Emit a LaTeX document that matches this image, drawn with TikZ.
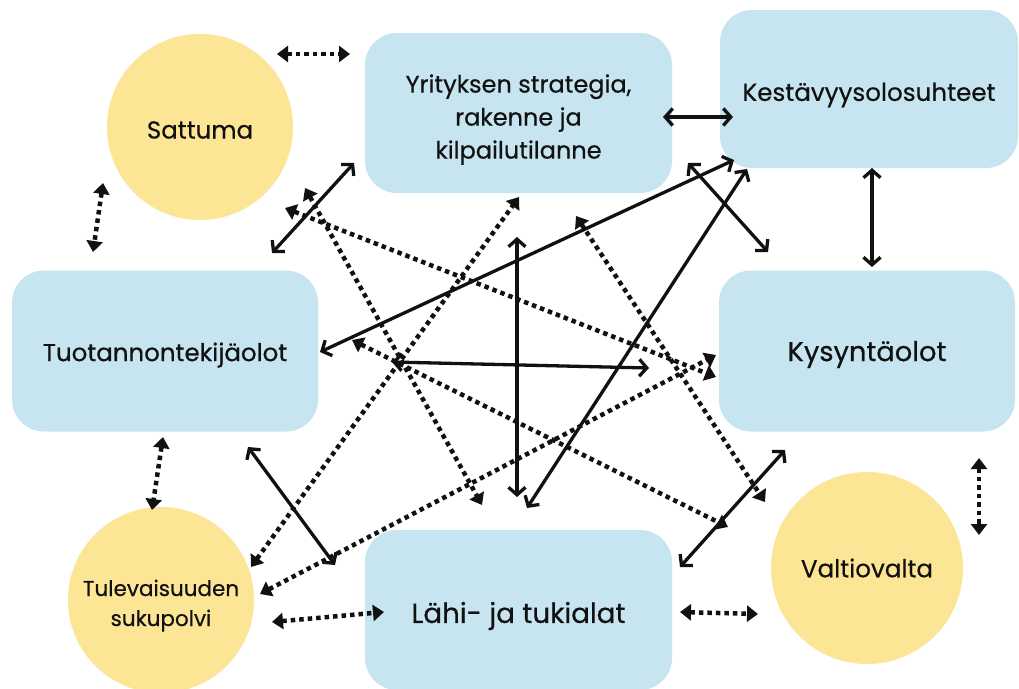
\documentclass[tikz,border=0pt]{standalone}
\usepackage{fontspec}
\setmainfont{Poppins}[FakeBold=0.45]
\usetikzlibrary{arrows.meta}
\definecolor{boxblue}{RGB}{198,229,241}
\definecolor{sunyellow}{RGB}{252,229,148}
\definecolor{ink}{RGB}{17,17,17}
\newcommand\dropby[2]{\raisebox{-#1}[\height][\depth]{#2}}
\newcommand\stackc[1]{\begin{tabular}{@{}c@{}}#1\end{tabular}}
\tikzset{
  box/.style={fill=boxblue, rounded corners=32pt, inner sep=0pt, align=center, text=ink},
  circ/.style={circle, fill=sunyellow, inner sep=0pt, align=center, text=ink},
  solidarrow/.style={draw=ink, line width=3.3pt,
    {Straight Barb[length=7.5pt,width=17pt]}-{Straight Barb[length=7.5pt,width=17pt]}},
  dotarrow/.style={draw=ink, line width=4.5pt, dash pattern=on 4.5pt off 4pt,
    {Triangle[length=11pt,width=16pt]}-{Triangle[length=11pt,width=16pt]}},
}
\begin{document}
\begin{tikzpicture}[x=1pt,y=-1pt]
\useasboundingbox (0,0) rectangle (1019,688);
\fill[white] (0,0) rectangle (1019,688);

% nodes
\node[circ, minimum size=186pt, font=\fontsize{24.5}{28}\selectfont] (satt) at (200,127) {\dropby{3pt}{Sattuma}};
\node[box, minimum width=307pt, minimum height=160pt, font=\fontsize{24}{33}\selectfont] (yrit) at (518.5,113) {\dropby{6pt}{\stackc{Yrityksen strategia,\\rakenne ja\\kilpailutilanne}}};
\node[box, minimum width=298pt, minimum height=158pt, font=\fontsize{24.6}{28}\selectfont] (kest) at (869,89) {\dropby{6pt}{Kestävyysolosuhteet}};
\node[box, minimum width=306pt, minimum height=161pt, font=\fontsize{24.5}{28}\selectfont] (tuot) at (165,351) {\dropby{4pt}{Tuotannontekijäolot}};
\node[box, minimum width=296pt, minimum height=161pt, font=\fontsize{27.3}{30}\selectfont] (kysy) at (867,351) {\dropby{3.5pt}{Kysyntäolot}};
\node[box, minimum width=307pt, minimum height=160pt, font=\fontsize{27.7}{32}\selectfont] (lahi) at (518.5,610) {\dropby{6pt}{Lähi- ja tukialat}};
\node[circ, minimum size=186pt, font=\fontsize{21.5}{30}\selectfont] (tule) at (161,600) {\dropby{5pt}{\stackc{Tulevaisuuden\\sukupolvi}}};
\node[circ, minimum size=192pt, font=\fontsize{24.6}{28}\selectfont] (valt) at (867,568) {Valtiovalta};

% connector end points
\coordinate (s1a) at (663,117); \coordinate (s1b) at (733,117);
\coordinate (s2a) at (872,168); \coordinate (s2b) at (872,267);
\coordinate (s3a) at (272,253); \coordinate (s3b) at (354,163);
\coordinate (s4a) at (320,352); \coordinate (s4b) at (734,160);
\coordinate (s5a) at (527,508); \coordinate (s5b) at (747,169);
\coordinate (s6a) at (688,163); \coordinate (s6b) at (768,252);
\coordinate (s7a) at (517,237); \coordinate (s7b) at (517,497);
\coordinate (s8a) at (392,362); \coordinate (s8b) at (649,368);
\coordinate (s9a) at (248,447); \coordinate (s9b) at (335,565);
\coordinate (s10a) at (680,567); \coordinate (s10b) at (785,450);

\coordinate (da1) at (277,54); \coordinate (da2) at (350,54);
\coordinate (db1) at (103,183); \coordinate (db2) at (93,252);
\coordinate (dc1) at (163,437); \coordinate (dc2) at (152,510);
\coordinate (dd1) at (272,622); \coordinate (dd2) at (384,612);
\coordinate (de1) at (680,612); \coordinate (de2) at (758,614);
\coordinate (df1) at (979,458); \coordinate (df2) at (979,535);
\coordinate (d11) at (305,188); \coordinate (d12) at (482,505);
\coordinate (d21) at (285,208); \coordinate (d22) at (716,377);
\coordinate (d31) at (260,594); \coordinate (d32) at (716,355);
\coordinate (d41) at (251,567); \coordinate (d42) at (519,197);
\coordinate (d51) at (576,216); \coordinate (d52) at (765,502);
\coordinate (d61) at (352,340); \coordinate (d62) at (728,527);

% dotted connectors
\draw[dotarrow] (da1) -- (da2);
\draw[dotarrow] (db1) -- (db2);
\draw[dotarrow] (dc1) -- (dc2);
\draw[dotarrow] (dd1) -- (dd2);
\draw[dotarrow] (de1) -- (de2);
\draw[dotarrow] (df1) -- (df2);
\draw[dotarrow] (d11) -- (d12);
\draw[dotarrow] (d21) -- (d22);
\draw[dotarrow] (d31) -- (d32);
\draw[dotarrow] (d41) -- (d42);
\draw[dotarrow] (d51) -- (d52);
\draw[dotarrow] (d61) -- (d62);

% solid connectors
\draw[solidarrow] (s1a) -- (s1b);
\draw[solidarrow] (s2a) -- (s2b);
\draw[solidarrow] (s3a) -- (s3b);
\draw[solidarrow] (s4a) -- (s4b);
\draw[solidarrow] (s5a) -- (s5b);
\draw[solidarrow] (s6a) -- (s6b);
\draw[solidarrow] (s7a) -- (s7b);
\draw[solidarrow] (s8a) -- (s8b);
\draw[solidarrow] (s9a) -- (s9b);
\draw[solidarrow] (s10a) -- (s10b);
\end{tikzpicture}
\end{document}
